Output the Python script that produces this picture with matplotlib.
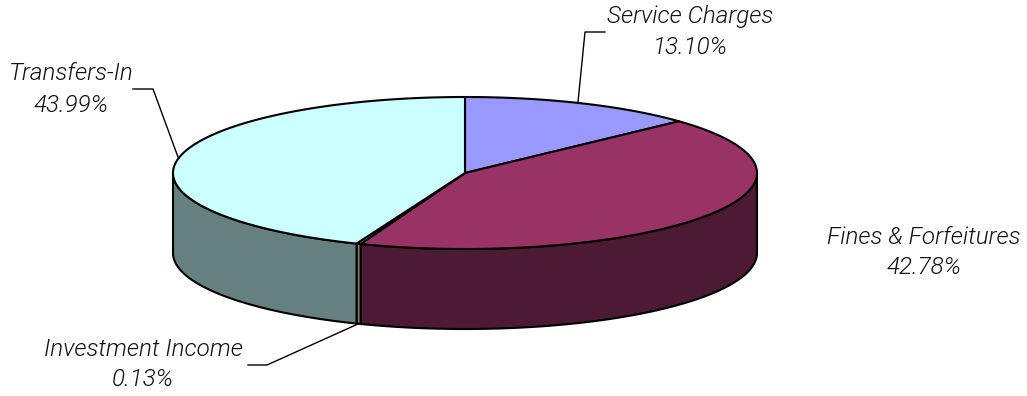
import numpy as np
import matplotlib
matplotlib.use('Agg')
import matplotlib.pyplot as plt

labels = ['Service Charges', 'Fines & Forfeitures', 'Investment Income', 'Transfers-In']
values = [13.10, 42.78, 0.13, 43.99]
top_colors = ['#9999FF', '#993366', '#FFFFCC', '#CCFFFF']
side_colors = ['#4D4D80', '#4D1A33', '#808066', '#668080']

W, H = 1027, 396
CX, CY, RX, RY, DEPTH = 465, 223, 292, 76, 80
MIN_SLICE_DEG = 0.85   # tiny slices still get a visible width

plt.rcParams['font.family'] = ['Lato', 'DejaVu Sans']

fig = plt.figure(figsize=(W / 100, H / 100), dpi=100)
ax = fig.add_axes([0, 0, 1, 1])
ax.set_xlim(0, W)
ax.set_ylim(0, H)
ax.axis('off')


def ellipse_xy(theta, dz=0):
    return CX + RX * np.cos(theta), CY + RY * np.sin(theta) - dz


# clockwise from 12 o'clock
sweep = np.maximum(np.array(values) * 3.6, MIN_SLICE_DEG)
sweep = sweep * 360 / sweep.sum()
edges = 90 - np.r_[0, np.cumsum(sweep)]

# side walls, only the front half shows
for i in range(len(values)):
    a0, a1 = max(edges[i + 1], -180), min(edges[i], 0)
    if a1 <= a0:
        continue
    t = np.radians(np.linspace(a0, a1, 80))
    x, y = ellipse_xy(t)
    xb, yb = ellipse_xy(t, DEPTH)
    ax.fill(np.r_[x, xb[::-1]], np.r_[y, yb[::-1]],
            fc=side_colors[i], ec='black', lw=1.5, zorder=2)

# top face
for i in range(len(values)):
    t = np.radians(np.linspace(edges[i + 1], edges[i], 200))
    x, y = ellipse_xy(t)
    ax.fill(np.r_[CX, x], np.r_[CY, y], fc=top_colors[i], ec='black',
            lw=1.5, joinstyle='round', zorder=3)

# labels and leader lines, positions in pixels from the top left
label_pos = [(690, 16), (924, 237), (143, 349), (71, 74)]
leaders = [[(605, 32), (585, 32), (578, 102)],
           [],
           [(248, 365), (267, 365), (358, 324)],
           [(133, 89), (153, 89), (178, 157)]]
text_style = dict(ha='center', va='center', fontsize=17.5, style='italic',
                  family=['Roboto', 'DejaVu Sans'], weight=300, color='#111111', zorder=5)
for i, (px, py) in enumerate(label_pos):
    ax.text(px, H - py, labels[i], **text_style)
    ax.text(px, H - py - 31, f'{values[i]:.2f}%', **text_style)
    if leaders[i]:
        lx, ly = zip(*leaders[i])
        ax.plot(lx, H - np.array(ly), color='black', lw=1, zorder=4)

fig.savefig('out.png', dpi=100, facecolor='white')
